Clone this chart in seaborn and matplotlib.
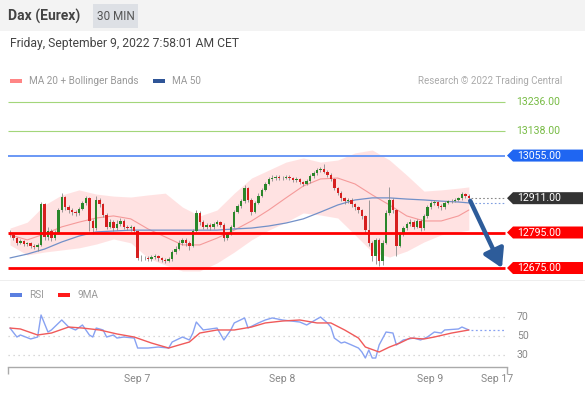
import numpy as np
import seaborn as sns
import matplotlib.pyplot as plt
from matplotlib import transforms
from matplotlib.patches import Rectangle, Polygon

W, H = 585, 393

# --- data (30 min candles, index = candle number) ---
first_open = 12795
closes = [12787, 12775, 12760, 12765, 12755, 12758, 12750, 12745, 12752, 12890,
          12780, 12800, 12775, 12795, 12870, 12915, 12880, 12870, 12865, 12860,
          12875, 12895, 12910, 12835, 12810, 12905, 12890, 12855, 12815, 12830,
          12810, 12825, 12835, 12815, 12810, 12812, 12800, 12710, 12708, 12710,
          12705, 12712, 12715, 12708, 12702, 12700, 12705, 12730, 12740, 12760,
          12770, 12760, 12750, 12800, 12860, 12830, 12815, 12820, 12812, 12825,
          12830, 12820, 12775, 12790, 12815, 12865, 12885, 12900, 12945, 12905,
          12865, 12895, 12920, 12940, 12960, 12975, 12980, 12982, 12978, 12980,
          12983, 12978, 12972, 12975, 12965, 12960, 12968, 12985, 12995, 13005,
          13010, 13000, 12990, 12975, 12945, 12930, 12910, 12900, 12905, 12890,
          12880, 12870, 12850, 12805, 12760, 12715, 12770, 12700, 12760, 12860,
          12905, 12870, 12750, 12790, 12810, 12825, 12830, 12815, 12835, 12810,
          12850, 12880, 12895, 12898, 12885, 12880, 12895, 12900, 12903, 12905,
          12910, 12925, 12920, 12911]
highs = [12802, 12792, 12780, 12772, 12770, 12764, 12762, 12756, 12758, 12898,
         12895, 12812, 12808, 12805, 12878, 12928, 12920, 12888, 12878, 12872,
         12882, 12902, 12920, 12915, 12842, 12918, 12912, 12895, 12860, 12842,
         12836, 12838, 12845, 12840, 12822, 12820, 12818, 12805, 12718, 12716,
         12716, 12720, 12722, 12720, 12712, 12708, 12712, 12736, 12748, 12768,
         12778, 12776, 12765, 12808, 12872, 12866, 12836, 12828, 12826, 12832,
         12838, 12835, 12826, 12798, 12822, 12872, 12892, 12908, 12955, 12950,
         12910, 12902, 12928, 12946, 12966, 12982, 12988, 12990, 12988, 12987,
         12990, 12988, 12984, 12982, 12980, 12970, 12975, 12992, 13002, 13012,
         13018, 13028, 13006, 12995, 12980, 12950, 12936, 12916, 12912, 12910,
         12895, 12885, 12876, 12855, 12905, 12765, 12778, 12775, 12768, 12870,
         12948, 12910, 12875, 12798, 12818, 12832, 12840, 12836, 12842, 12840,
         12858, 12888, 12902, 12905, 12902, 12890, 12900, 12906, 12908, 12910,
         12916, 12932, 12930, 12924]
lows = [12780, 12768, 12752, 12755, 12748, 12750, 12744, 12738, 12733, 12748,
        12770, 12768, 12765, 12770, 12790, 12865, 12872, 12862, 12855, 12850,
        12853, 12870, 12888, 12800, 12790, 12805, 12880, 12848, 12808, 12810,
        12800, 12805, 12818, 12808, 12802, 12800, 12793, 12702, 12700, 12702,
        12698, 12700, 12706, 12700, 12695, 12692, 12695, 12700, 12724, 12735,
        12752, 12750, 12735, 12745, 12795, 12822, 12808, 12808, 12805, 12806,
        12818, 12812, 12765, 12768, 12785, 12810, 12860, 12878, 12895, 12898,
        12855, 12860, 12890, 12915, 12935, 12955, 12970, 12974, 12972, 12972,
        12975, 12972, 12966, 12966, 12958, 12952, 12955, 12962, 12980, 12990,
        13000, 12995, 12982, 12968, 12938, 12922, 12902, 12892, 12895, 12882,
        12872, 12862, 12840, 12795, 12750, 12700, 12690, 12682, 12685, 12755,
        12855, 12862, 12715, 12745, 12782, 12805, 12818, 12808, 12810, 12800,
        12805, 12845, 12875, 12888, 12878, 12872, 12875, 12890, 12895, 12898,
        12900, 12905, 12912, 12905]

band_idx = [0, 5, 10, 15, 20, 25, 30, 35, 40, 45, 50, 55, 60, 65,
            70, 75, 80, 85, 90, 95, 100, 105, 110, 115, 120, 125, 130, 133]
ma20 = [12787, 12770, 12790, 12814, 12830, 12844, 12851, 12841, 12807, 12780,
        12753, 12753, 12776, 12803, 12834, 12871, 12912, 12952, 12976, 12979,
        12959, 12922, 12888, 12851, 12834, 12834, 12851, 12871]
bb_upper = [12810, 12830, 12888, 12922, 12939, 12925, 12918, 12915, 12922, 12928,
            12881, 12851, 12871, 12928, 12979, 13006, 13033, 13047, 13033, 13040,
            13064, 13074, 13040, 12989, 12935, 12939, 12945, 12949]
bb_lower = [12753, 12719, 12729, 12736, 12743, 12756, 12773, 12760, 12709, 12685,
            12665, 12665, 12692, 12729, 12770, 12803, 12830, 12861, 12854, 12844,
            12787, 12729, 12712, 12732, 12763, 12787, 12797, 12803]
ma50 = [12709, 12722, 12739, 12763, 12783, 12797, 12800, 12803, 12803, 12803,
        12803, 12803, 12803, 12807, 12810, 12817, 12827, 12841, 12864, 12888,
        12905, 12912, 12912, 12908, 12905, 12901, 12898, 12895]

rsi_idx = [0, 2, 3, 6, 8, 9, 11, 12, 15, 17, 19, 21, 23, 24, 25, 27, 28, 30, 31, 33,
           36, 37, 40, 43, 46, 47, 50, 52, 53, 54, 56, 60, 62, 64, 65, 68, 69, 72, 74, 76,
           79, 84, 86, 90, 92, 93, 94, 96, 97, 99, 101, 102, 103, 104, 105, 106, 107, 109,
           111, 112, 114, 117, 119, 121, 123, 125, 126, 130, 131, 133]
rsi_vals = [58.6, 48.9, 51.1, 46.8, 48.9, 72.7, 54.3, 56.5, 67.3, 59.7,
            56.5, 61.9, 51.1, 48.9, 58.6, 56.5, 48.9, 51.1, 47.8, 48.9,
            47.8, 37.0, 37.0, 38.1, 37.0, 43.5, 48.9, 45.7, 53.2, 65.1,
            56.5, 58.6, 45.7, 56.5, 64.1, 69.5, 58.6, 64.1, 67.3, 69.5,
            67.3, 65.1, 61.9, 70.5, 64.1, 59.7, 47.8, 42.4, 43.5, 40.3,
            37.0, 32.7, 26.2, 34.9, 26.2, 26.2, 40.3, 54.3, 53.2, 40.3,
            45.7, 47.8, 45.7, 48.9, 54.3, 53.2, 56.5, 57.6, 59.7, 56.5]
ma9_idx = [0, 3, 8, 12, 17, 21, 26, 31, 36, 41, 46, 49, 52, 55, 60, 65, 70,
           74, 79, 84, 89, 93, 97, 101, 103, 107, 110, 113, 116, 120, 123, 128, 133]
ma9_vals = [58.6, 57.6, 51.1, 53.2, 59.7, 58.6, 56.5, 52.2, 48.9, 42.4, 37.0,
            40.3, 43.5, 53.2, 56.5, 56.5, 59.7, 64.1, 66.2, 67.3, 64.1, 64.1,
            56.5, 47.8, 38.1, 32.7, 38.1, 42.4, 47.8, 46.8, 48.9, 53.2, 56.5]

target_levels = [13236, 13138]
level_blue = 13055
last_price = 12911
support_levels = [12795, 12675]
rsi_levels = [70, 50, 30]
date_ticks = [36.8, 78.8, 121.7, 141.2]
date_labels = ["Sep 7", "Sep 8", "Sep 9", "Sep 17"]

sns.set_theme(style="white")
plt.rcParams["font.family"] = ["Roboto", "DejaVu Sans"]

fig = plt.figure(figsize=(W / 100, H / 100), dpi=100)


def frect(px, py, w, h, color):
    fig.add_artist(Rectangle((px / W, 1 - (py + h) / H), w / W, h / H,
                             transform=fig.transFigure, color=color, lw=0))


def ftext(px, py, s, **kw):
    fig.text(px / W, 1 - py / H, s, va="center", **kw)


# header
frect(0, 0, W, 31, "#f3f3f3")
ftext(8, 16, "Dax (Eurex)", fontsize=10, fontweight="bold", color="#444444")
frect(93, 4, 45, 24, "#dde0e5")
ftext(115.5, 16, "30 MIN", fontsize=8.5, color="#555555", ha="center")
ftext(10, 44, "Friday, September 9, 2022 7:58:01 AM CET", fontsize=8.7, color="#444444")

# legends
frect(10, 79, 12, 4, "#ff8585")
ftext(29, 81, "MA 20 + Bollinger Bands", fontsize=7.2, color="#999999")
frect(153, 79, 12, 4, "#2f5597")
ftext(172, 81, "MA 50", fontsize=7.2, color="#999999")
ftext(562, 81, "Research \u00a9 2022 Trading Central", fontsize=7, color="#aaaaaa", ha="right")
frect(0, 280, W, 1, "#eeeeee")
frect(10, 293, 12, 4, "#5b7fe0")
ftext(29, 295, "RSI", fontsize=7.2, color="#999999")
frect(58, 293, 12, 4, "#ff1a1a")
ftext(78, 295, "9MA", fontsize=7.2, color="#999999")

# --- price panel ---
ax = fig.add_axes([8 / W, 1 - 276 / H, 499 / W, 184 / H])
ax.set_xlim(-0.58, 144.06)
ax.set_ylim(12648.0, 13269.8)
ax.set_axis_off()

ax.fill_between(band_idx, bb_lower, bb_upper, color="#ff9a9a", alpha=0.28, lw=0, zorder=1)
sns.lineplot(x=band_idx, y=ma20, ax=ax, color="#f59a9a", lw=0.8, zorder=2)
sns.lineplot(x=band_idx, y=ma50, ax=ax, color="#7290c8", lw=0.9, zorder=2)

x_end = 143.5
for lv in target_levels:
    ax.hlines(lv, -0.58, x_end, color="#a3d67a", lw=0.8, zorder=1)
ax.hlines(level_blue, -0.58, x_end, color="#6a98f5", lw=1.4, zorder=1)

idx = np.arange(len(closes))
c = np.array(closes, dtype=float)
o = np.concatenate([[first_open], c[:-1]])
up = c >= o
colors = np.where(up, "#2a862a", "#d61f1f")
ax.vlines(idx, lows, highs, color="#8a8a8a", lw=0.6, zorder=3)
ax.bar(idx, np.maximum(np.abs(c - o), 2.5), bottom=np.minimum(o, c), width=0.72,
       color=colors, lw=0, zorder=3)

for lv in support_levels:
    ax.hlines(lv, -0.58, x_end, color="#ff0000", lw=2.0, zorder=4)

ax.hlines(last_price, 133.6, x_end, color="#888888", lw=0.8, ls=(0, (1.5, 2)), zorder=2)
ax.hlines(ma50[-1], 133.6, x_end, color="#7f9ee0", lw=0.8, ls=(0, (1.5, 2)), zorder=2)

ax.annotate("", xy=(142.6, support_levels[1]), xytext=(133.4, 12902),
            arrowprops=dict(arrowstyle="-|>,head_length=1.1,head_width=0.65",
                            mutation_scale=10, lw=3.2, color="#2d5c9a",
                            shrinkA=0, shrinkB=0), zorder=5, annotation_clip=False)

trans = transforms.blended_transform_factory(ax.transAxes, ax.transData)


def xf(px):
    return (px - 8) / 499


hh = 6 * (13269.8 - 12648.0) / 184
for lv in target_levels:
    ax.text(xf(516), lv, f"{lv:.2f}", transform=trans, color="#77bb44",
            fontsize=7.6, va="center", ha="left", clip_on=False)
tags = [(level_blue, "#1f66f2"), (last_price, "#333333"),
        (support_levels[0], "#ff0000"), (support_levels[1], "#ff0000")]
for lv, col in tags:
    ax.add_patch(Polygon([(xf(507), lv), (xf(513), lv + hh), (xf(583), lv + hh),
                          (xf(583), lv - hh), (xf(513), lv - hh)],
                         closed=True, transform=trans, color=col, clip_on=False, lw=0))
    ax.text(xf(517), lv, f"{lv:.2f}", transform=trans, color="white",
            fontsize=7.6, va="center", ha="left", clip_on=False)

# --- RSI panel ---
rax = fig.add_axes([8 / W, 1 - 367 / H, 499 / W, 62 / H])
rax.set_xlim(-0.58, 144.06)
rax.set_ylim(16.5, 83.5)
rtrans = transforms.blended_transform_factory(rax.transAxes, rax.transData)
for lv in rsi_levels:
    rax.hlines(lv, -0.58, x_end, color="#cccccc", lw=0.9, ls=(0, (1, 3)), zorder=1)
    rax.text(xf(517), lv, str(lv), transform=rtrans, color="#888888", fontsize=7.6,
             va="center", ha="left", clip_on=False)
sns.lineplot(x=rsi_idx, y=rsi_vals, ax=rax, color="#88a2f2", lw=1.0, zorder=2)
sns.lineplot(x=ma9_idx, y=ma9_vals, ax=rax, color="#f05a5a", lw=1.0, zorder=3)
rax.hlines(rsi_vals[-1], 133.6, x_end, color="#88a2f2", lw=0.9, ls=(0, (1.5, 2)), zorder=1)

rax.set_xlabel("")
rax.set_ylabel("")
rax.set_yticks([])
sns.despine(ax=rax, left=True, top=True, right=True)
rax.spines["bottom"].set_color("#aaaaaa")
rax.spines["bottom"].set_linewidth(1.0)
rax.set_xticks(date_ticks)
rax.set_xticklabels(date_labels, fontsize=7.6, color="#888888")
rax.tick_params(axis="x", which="major", length=0, pad=5)
rax.set_xticks([-0.5, 144.0], minor=True)
rax.tick_params(axis="x", which="minor", bottom=True, length=5, width=1,
                color="#aaaaaa", direction="out")
rax.patch.set_alpha(0)

fig.savefig("out.png", dpi=100)
